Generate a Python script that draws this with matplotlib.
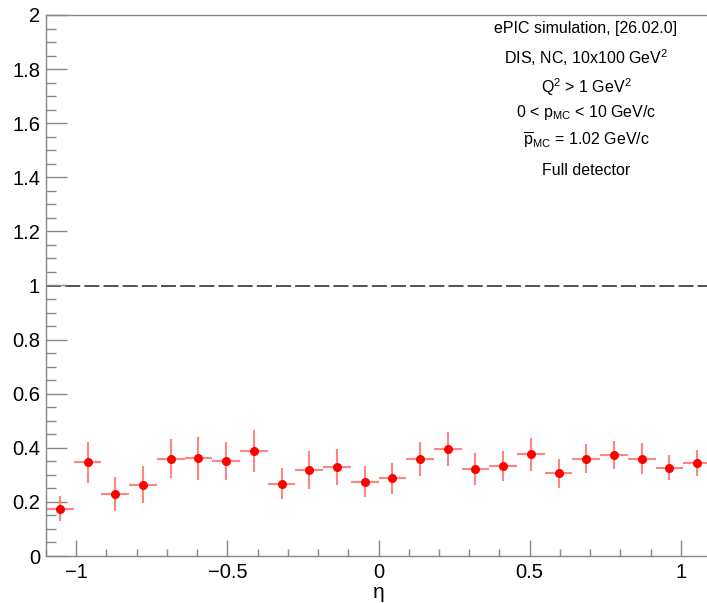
import numpy as np
import matplotlib
matplotlib.use("Agg")
import matplotlib.pyplot as plt
from matplotlib.ticker import MultipleLocator, FuncFormatter

plt.rcParams['font.family'] = ['Liberation Sans', 'DejaVu Sans']
plt.rcParams['mathtext.fontset'] = 'custom'
plt.rcParams['mathtext.rm'] = 'Liberation Sans'
plt.rcParams['mathtext.it'] = 'Liberation Sans'

# 24 bins in eta from -1.1 to 1.1
bin_edges = np.linspace(-1.1, 1.1, 25)
eta = 0.5 * (bin_edges[1:] + bin_edges[:-1])
half_width = 0.5 * (bin_edges[1:] - bin_edges[:-1])

ratio = [0.175, 0.346, 0.230, 0.264, 0.359, 0.361, 0.351, 0.388,
         0.267, 0.318, 0.329, 0.275, 0.287, 0.359, 0.396, 0.322,
         0.334, 0.376, 0.306, 0.360, 0.373, 0.360, 0.327, 0.343]
ratio_err = [0.047, 0.076, 0.062, 0.068, 0.072, 0.079, 0.070, 0.077,
             0.057, 0.069, 0.068, 0.058, 0.057, 0.063, 0.064, 0.060,
             0.056, 0.060, 0.054, 0.054, 0.052, 0.056, 0.046, 0.048]

labels = [
    "ePIC simulation, [26.02.0]",
    r"DIS, NC, 10x100 GeV$^{2}$",
    r"Q$^{2}$ > 1 GeV$^{2}$",
    r"0 < p$_{\rm MC}$ < 10 GeV/c",
    r"$\overline{\rm p}_{\rm MC}$ = 1.02 GeV/c",
    "Full detector",
]
label_ypix = [29, 58, 87, 113, 141, 170]

fig = plt.figure(figsize=(7.07, 6.03), dpi=100)
W, H = 707, 603
ax = fig.add_axes([46 / W, (H - 556) / H, (711 - 46) / W, (556 - 15) / H])

ax.errorbar(eta, ratio, xerr=half_width, yerr=ratio_err, fmt='none',
            ecolor='#ff8585', elinewidth=1.5, capsize=0, zorder=2)
ax.plot(eta, ratio, 'o', color='red', markersize=5.5, zorder=3)
ax.axhline(1.0, color='#333333', lw=1.2, dashes=(9, 2.5), zorder=1)

ax.set_xlim(-1.1, 1.1)
ax.set_ylim(0, 2)
ax.xaxis.set_major_locator(MultipleLocator(0.5))
ax.xaxis.set_minor_locator(MultipleLocator(0.1))
ax.yaxis.set_major_locator(MultipleLocator(0.2))
ax.yaxis.set_minor_locator(MultipleLocator(0.05))
fmt = FuncFormatter(lambda v, p: ('%g' % round(v, 3)).replace('-', '\u2212'))
ax.xaxis.set_major_formatter(fmt)
ax.yaxis.set_major_formatter(fmt)

for s in ['left', 'bottom', 'top']:
    ax.spines[s].set_color('#888888')
    ax.spines[s].set_linewidth(1.0)
ax.spines['right'].set_visible(False)

ax.tick_params(axis='y', which='major', direction='in', length=15, width=1,
               color='#888888', labelsize=14.5, pad=4.3)
ax.tick_params(axis='y', which='minor', direction='in', length=7, width=1,
               color='#888888')
ax.tick_params(axis='x', which='major', direction='in', length=11.5, width=1,
               color='#888888', labelsize=14.5, pad=5)
ax.tick_params(axis='x', which='minor', direction='in', length=5, width=1,
               color='#888888')

ax.set_xlabel('η', fontsize=15)
ax.xaxis.set_label_coords((379 - 46) / (711 - 46), -0.05)

for txt, yp in zip(labels, label_ypix):
    fig.text(586 / W, 1 - yp / H, txt, ha='center', va='center', fontsize=11.5)

fig.savefig('out.png', dpi=100)
